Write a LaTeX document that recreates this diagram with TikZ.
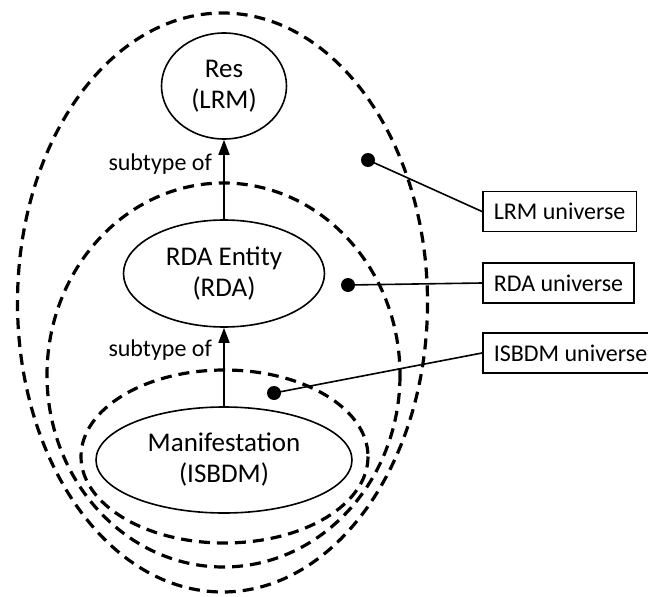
\documentclass[tikz,border=0pt]{standalone}
\usepackage{fontspec}
\setmainfont{Carlito}
\usetikzlibrary{shapes.geometric, arrows.meta}

\begin{document}
\begin{tikzpicture}[x=1pt, y=-1pt]
        \tikzstyle{entity} = [ellipse, draw=black, line width=1.6pt, align=center, font=\fontsize{27}{31}\selectfont, inner sep=0pt]
        \tikzstyle{universe} = [draw=black, line width=3.2pt, dash pattern=on 11pt off 7pt]
        \tikzstyle{labelbox} = [rectangle, draw=black, line width=1.6pt, font=\fontsize{24}{28}\selectfont, minimum height=40pt, inner xsep=11pt, anchor=west]
        \tikzstyle{dot} = [circle, fill=black, inner sep=0pt, minimum size=14pt]
        \tikzstyle{arrow} = [line width=1.6pt, -{Triangle[length=15pt, width=11pt]}]
        \tikzstyle{pointer} = [line width=1.6pt]
        \tikzstyle{relation} = [font=\fontsize{24}{28}\selectfont, anchor=east, xshift=-8pt]

        \useasboundingbox (0,0) rectangle (648,597);

        % Universes
        \draw [universe] (222.5,302.5) ellipse [x radius=205, y radius=289.5];
        \draw [universe] (223.5,375) ellipse [x radius=176.5, y radius=192];
        \draw [universe] (224.5,456.5) ellipse [x radius=143.5, y radius=86.5];

        % Nodes
        \node (res) [entity, minimum width=125pt, minimum height=106pt] at (224,86) {Res\\(LRM)};
        \node (rda) [entity, minimum width=201pt, minimum height=107pt] at (224,273.5) {RDA Entity\\(RDA)};
        \node (manif) [entity, minimum width=256pt, minimum height=106pt] at (224,460) {Manifestation\\(ISBDM)};

        \node (lrmdot) [dot] at (368,160) {};
        \node (rdadot) [dot] at (348,285) {};
        \node (isbdmdot) [dot] at (274,393) {};

        \node (lrmbox) [labelbox] at (482,211.5) {LRM universe};
        \node (rdabox) [labelbox] at (482,283) {RDA universe};
        \node (isbdmbox) [labelbox] at (482,353) {ISBDM universe};

        % Arrows
        \draw [arrow] (rda) -- node [pos=0.70, relation] {subtype of} (res);
        \draw [arrow] (manif) -- node [pos=0.71, relation] {subtype of} (rda);

        \draw [pointer] (lrmdot.center) -- (lrmbox.west);
        \draw [pointer] (rdadot.center) -- (rdabox.west);
        \draw [pointer] (isbdmdot.center) -- (isbdmbox.west);

\end{tikzpicture}
\end{document}
